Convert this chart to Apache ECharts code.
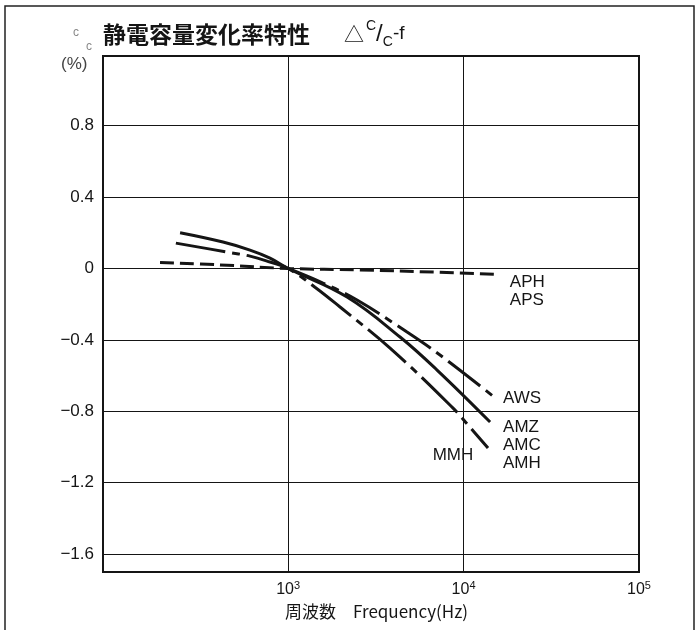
<!DOCTYPE html>
<html><head><meta charset="utf-8">
<script src="https://cdn.jsdelivr.net/npm/echarts@6/dist/echarts.min.js"></script>
<style>html,body{margin:0;padding:0;background:#fff}#c{width:698px;height:630px}</style>
</head><body><div id="c"></div>
<script>
// tick / grid values
const yTicks = [0.8, 0.4, 0, -0.4, -0.8, -1.2, -1.6];
const xTickExps = [3, 4, 5];
const xGrid = [1000, 10000];

// series: frequency (Hz) and ΔC/C (%)
const freqAPH = [186, 409, 1000, 2570, 7060, 16100];
const valAPH  = [0.034, 0.020, 0, -0.008, -0.021, -0.034];

const freqAMZ = [242, 425, 606, 788, 1000, 2166, 4343, 7060, 14160];
const valAMZ  = [0.200, 0.148, 0.103, 0.058, 0, -0.160, -0.384, -0.569, -0.860];

const freqMMH = [229, 448, 606, 788, 1000, 1422, 1976, 3809, 8710, 10600, 13780];
const valMMH  = [0.142, 0.092, 0.069, 0.036, 0, -0.105, -0.216, -0.446, -0.782, -0.877, -1.006];

const freqAWS = [1000, 1580, 2470, 4760, 7340, 14720];
const valAWS  = [0, -0.082, -0.177, -0.356, -0.485, -0.715];

const ink = '#151515';
const fam = "'Liberation Sans', Arial, sans-serif";
const cjk = "'Noto Sans CJK JP', sans-serif";
function pairs(f, v) { return f.map((x, i) => [x, v[i]]); }

const labelStyle = { show: true, color: ink, fontSize: 17, fontFamily: fam, lineHeight: 18 };

const chart = echarts.init(document.getElementById('c'), null, { renderer: 'canvas' });
chart.setOption({
  animation: false,
  backgroundColor: '#fff',
  title: {
    left: 98, top: 14,
    text: '{t|静電容量変化率特性}{d|△}{n|C}{sl|/}{b|C}{f|-f}',
    textStyle: {
      fontWeight: 'normal',
      rich: {
        t: { fontFamily: cjk, fontSize: 23, fontWeight: 'bold', color: ink, lineHeight: 30 },
        d: { fontFamily: cjk, fontSize: 20, fontWeight: 'normal', color: ink, lineHeight: 30, padding: [0, 2, 0, 34] },
        n: { fontFamily: fam, fontSize: 14, fontWeight: 'normal', color: ink, lineHeight: 14, verticalAlign: 'top' },
        sl: { fontFamily: fam, fontSize: 24, fontWeight: 'normal', color: ink, lineHeight: 30 },
        b: { fontFamily: fam, fontSize: 14, fontWeight: 'normal', color: ink, lineHeight: 14, verticalAlign: 'bottom' },
        f: { fontFamily: fam, fontSize: 19, fontWeight: 'normal', color: ink, lineHeight: 30 }
      }
    }
  },
  graphic: [
    { type: 'rect', silent: true, shape: { x: 5, y: 6, width: 689, height: 700 },
      style: { fill: 'none', stroke: '#222', lineWidth: 1.5 } },
    { type: 'text', silent: true, left: 73, top: 27, style: { text: 'c', fill: '#888', font: "12px 'Liberation Sans'" } },
    { type: 'text', silent: true, left: 86, top: 41, style: { text: 'c', fill: '#888', font: "12px 'Liberation Sans'" } },
    { type: 'text', silent: true, left: 61, top: 56, style: { text: '(%)', fill: '#444', font: "17px 'Liberation Sans'" } }
  ],
  grid: { left: 103, right: 59, top: 56, bottom: 58, show: true, borderColor: ink, borderWidth: 2, backgroundColor: 'transparent' },
  xAxis: {
    type: 'log', logBase: 10, min: 88, max: 100000,
    axisLine: { show: false }, axisTick: { show: false }, splitLine: { show: false }, minorSplitLine: { show: false },
    axisLabel: {
      margin: 8,
      formatter: function (v) {
        const l = Math.log10(v), e = Math.round(l);
        if (Math.abs(l - e) < 1e-6 && xTickExps.indexOf(e) >= 0) return '{m|10}{s|' + e + '}';
        return '';
      },
      rich: {
        m: { fontFamily: fam, fontSize: 16, color: ink, lineHeight: 20 },
        s: { fontFamily: fam, fontSize: 11, color: ink, lineHeight: 11, verticalAlign: 'top' }
      }
    },
    name: '周波数　Frequency(Hz)', nameLocation: 'middle', nameGap: 30,
    nameTextStyle: { fontFamily: cjk, fontSize: 17, color: ink, padding: [0, 0, 0, 11] }
  },
  yAxis: {
    type: 'value', min: -1.7, max: 1.19, interval: 0.1,
    axisLine: { show: false }, axisTick: { show: false }, splitLine: { show: false },
    axisLabel: {
      margin: 9, color: ink, fontFamily: fam, fontSize: 17,
      formatter: function (v) {
        for (const t of yTicks) {
          if (Math.abs(v - t) < 1e-6) return t === 0 ? '0' : (t < 0 ? '\u2212' + Math.abs(t).toFixed(1) : t.toFixed(1));
        }
        return '';
      }
    }
  },
  series: [
    {
      name: 'APH', type: 'line', data: pairs(freqAPH, valAPH), smooth: 0.4, showSymbol: false, symbol: 'none',
      lineStyle: { color: ink, width: 3, type: [14, 6] }, z: 3,
      endLabel: Object.assign({}, labelStyle, { formatter: 'APH\nAPS', offset: [2, 17] }),
      markLine: {
        silent: true, symbol: ['none', 'none'], animation: false, label: { show: false },
        lineStyle: { type: 'solid', width: 1, color: ink },
        data: yTicks.map(v => ({ yAxis: v })).concat(xGrid.map(f => ({ xAxis: f })))
      }
    },
    {
      name: 'AMZ', type: 'line', data: pairs(freqAMZ, valAMZ), smooth: 0.4, showSymbol: false, symbol: 'none',
      lineStyle: { color: ink, width: 3 }, z: 3,
      endLabel: Object.assign({}, labelStyle, { formatter: 'AMZ', offset: [5, 5] })
    },
    {
      name: 'MMH', type: 'line', data: pairs(freqMMH, valMMH), smooth: 0.4, showSymbol: false, symbol: 'none',
      lineStyle: { color: ink, width: 3, type: [50, 7, 8, 7] }, z: 3,
      endLabel: Object.assign({}, labelStyle, { formatter: 'AMC\nAMH', offset: [7, 6] }),
      markPoint: {
        symbol: 'circle', symbolSize: 0, silent: true, itemStyle: { color: 'transparent' },
        label: Object.assign({}, labelStyle, { position: 'inside', formatter: 'MMH', offset: [-35, 7] }),
        data: [{ coord: [freqMMH[freqMMH.length - 1], valMMH[valMMH.length - 1]] }]
      }
    },
    {
      name: 'AWS', type: 'line', data: pairs(freqAWS, valAWS), smooth: 0.4, showSymbol: false, symbol: 'none',
      lineStyle: { color: ink, width: 3, type: [40, 7, 8, 7] }, z: 3,
      endLabel: Object.assign({}, labelStyle, { formatter: 'AWS', offset: [2, 2] })
    }
  ]
});
</script></body></html>
